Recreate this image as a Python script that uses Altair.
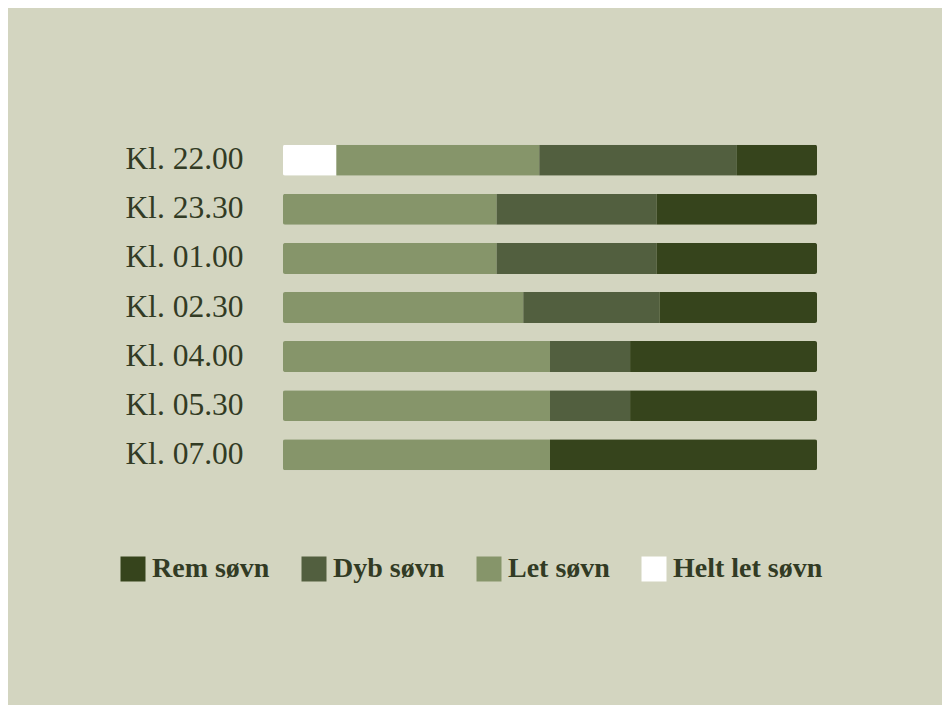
import altair as alt
import pandas as pd

times = ["Kl. 22.00", "Kl. 23.30", "Kl. 01.00", "Kl. 02.30", "Kl. 04.00", "Kl. 05.30", "Kl. 07.00"]
helt_let = [10, 0, 0, 0, 0, 0, 0]
let_sovn = [38, 40, 40, 45, 50, 50, 50]
dyb_sovn = [37, 30, 30, 25.5, 15, 15, 0]
rem_sovn = [15, 30, 30, 29.5, 35, 35, 50]

stages = ["Rem søvn", "Dyb søvn", "Let søvn", "Helt let søvn"]
colors = ["#36441c", "#525f3f", "#86956a", "#ffffff"]
stack_order = {"Helt let søvn": 0, "Let søvn": 1, "Dyb søvn": 2, "Rem søvn": 3}

rows = []
for i, t in enumerate(times):
    for name, vals in [("Helt let søvn", helt_let), ("Let søvn", let_sovn),
                       ("Dyb søvn", dyb_sovn), ("Rem søvn", rem_sovn)]:
        if vals[i] > 0:
            rows.append({"tid": t, "fase": name, "andel": vals[i], "ord": stack_order[name]})
df = pd.DataFrame(rows)

bg = "#d3d5c0"

chart = alt.Chart(df).mark_bar(cornerRadius=2).encode(
    y=alt.Y("tid:N", sort=times, title=None,
            scale=alt.Scale(paddingInner=0.37, paddingOuter=0.18),
            axis=alt.Axis(domain=False, ticks=False, labelFont="Liberation Serif",
                          labelFontSize=31.5, labelColor="#323b24", labelPadding=40,
                          labelBaseline="middle")),
    x=alt.X("andel:Q", stack="zero", scale=alt.Scale(domain=[0, 100]), axis=None),
    color=alt.Color("fase:N", scale=alt.Scale(domain=stages, range=colors),
                    legend=alt.Legend(title=None, orient="none", direction="horizontal",
                                      legendX=-164, legendY=419,
                                      symbolType="square", symbolSize=625,
                                      symbolStrokeWidth=0, symbolOpacity=1,
                                      labelFont="Liberation Serif", labelFontSize=28,
                                      labelFontWeight="bold", labelColor="#323b24",
                                      labelOffset=5, columnPadding=30, labelLimit=300)),
    order=alt.Order("ord:Q", sort="ascending"),
).properties(
    width=534, height=343,
    background=bg,
    padding={"left": 275, "top": 128, "right": 125, "bottom": 226},
    autosize=alt.AutoSizeParams(type="none"),
).configure_view(stroke=None)

chart.save("out.html", embed_options={"renderer": "svg", "actions": False})
